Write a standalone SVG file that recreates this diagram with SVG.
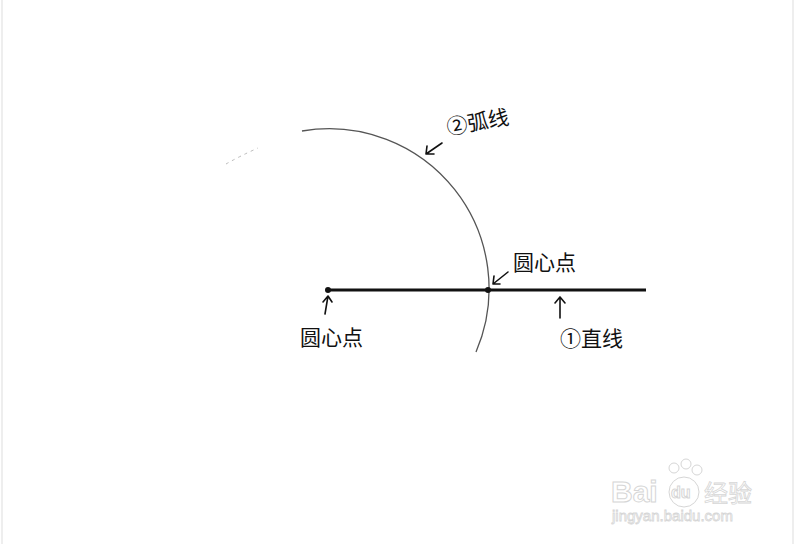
<svg xmlns="http://www.w3.org/2000/svg" width="797" height="544" viewBox="0 0 797 544">
<style>
.hand{font-family:"Noto Sans CJK SC","Noto Sans",sans-serif;font-size:21px;fill:#111}
.arrow{stroke:#111;stroke-width:1.6;fill:none;stroke-linecap:round;stroke-linejoin:round}
.wm{font-family:"Liberation Sans",Arial,sans-serif;fill:#fff;stroke:#d6d6d6;stroke-width:1}
</style>
<rect width="797" height="544" fill="#fff"/>
<line x1="2" y1="0" x2="2" y2="544" stroke="#e8e8e8" stroke-width="1.5"/>
<line x1="793" y1="0" x2="793" y2="544" stroke="#e8e8e8" stroke-width="1.5"/>
<g id="connectors">
<path d="M302,131 A160,160 0 0 1 476,352" fill="none" stroke="#555" stroke-width="1.3"/>
<path d="M226,164 Q240,156 258,148" fill="none" stroke="#bbb" stroke-width="1" stroke-dasharray="3 4"/>
<line x1="328" y1="290" x2="646" y2="290" stroke="#111" stroke-width="3"/>
<path class="arrow" d="M325,314 L328,296 M323,302 L328,296 L332,302"/>
<path class="arrow" d="M508,272 L493,284 M494,276 L493,284 L500,284"/>
<path class="arrow" d="M560,318 L560,297 M555,303 L560,297 L565,303"/>
<path class="arrow" d="M442,143 L426,154 M427,146 L426,154 L434,154"/>
</g>
<g id="center">
<circle cx="328" cy="290" r="3" fill="#111"/>
</g>
<g id="intersection">
<circle cx="488" cy="290" r="3" fill="#111"/>
</g>
<g id="label-arc">
<text class="hand" x="448" y="135" transform="rotate(-10 448 135)">②弧线</text>
</g>
<g id="label-center">
<text class="hand" x="300" y="345">圆心点</text>
</g>
<g id="label-intersection">
<text class="hand" x="513" y="270">圆心点</text>
</g>
<g id="label-line">
<text class="hand" x="560" y="346">①直线</text>
</g>
<g id="watermark">
<text class="wm" x="611" y="502" font-size="30" font-weight="bold">Bai</text>
<circle cx="684" cy="492" r="15" fill="#fff" stroke="#d6d6d6"/>
<circle cx="674" cy="468" r="5" fill="#fff" stroke="#d6d6d6"/>
<circle cx="686" cy="464" r="5" fill="#fff" stroke="#d6d6d6"/>
<circle cx="697" cy="470" r="5" fill="#fff" stroke="#d6d6d6"/>
<text class="wm" x="671" y="498" font-size="16" font-weight="bold">du</text>
<text x="704" y="502" font-family="'Noto Sans CJK SC',sans-serif" font-size="24" fill="#fff" stroke="#d6d6d6" stroke-width="0.8">经验</text>
<text x="612" y="521" font-family="'Liberation Sans',Arial,sans-serif" font-size="15" fill="#fff" stroke="#d6d6d6" stroke-width="0.8">jingyan.baidu.com</text>
</g>
</svg>
